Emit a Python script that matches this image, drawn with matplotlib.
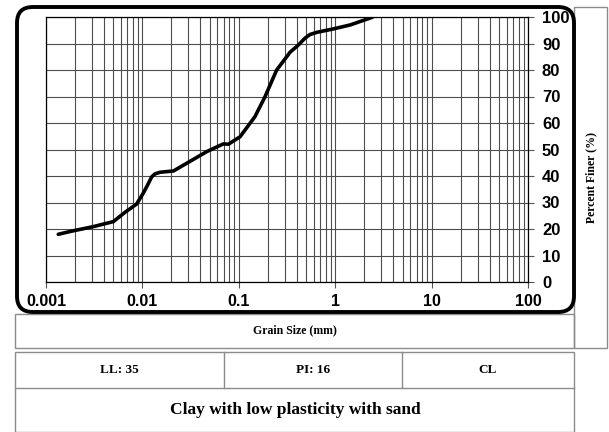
import matplotlib
matplotlib.use("Agg")
import matplotlib.pyplot as plt
from matplotlib.patches import Rectangle, FancyBboxPatch
from matplotlib.ticker import LogLocator, FixedLocator, NullFormatter

# grain size distribution (hydrometer + sieve)
grain_mm = [0.00134, 0.00185, 0.0031, 0.0050, 0.0066, 0.0087, 0.0102, 0.0111,
            0.0125, 0.0135, 0.0152, 0.021, 0.0288, 0.0465, 0.069, 0.078, 0.103,
            0.147, 0.187, 0.247, 0.314, 0.34, 0.414, 0.486, 0.548, 0.643, 0.955,
            1.43, 2.3, 2.45]
percent_finer = [18.0, 19.2, 20.9, 22.8, 26.3, 29.4, 33.5, 36.0,
                 39.7, 40.8, 41.4, 41.9, 44.8, 49.2, 52.1, 52.0, 54.8,
                 62.4, 69.9, 80.0, 85.0, 86.7, 89.4, 92.0, 93.4, 94.2, 95.5,
                 97.0, 99.6, 100.0]

x_ticks = [0.001, 0.01, 0.1, 1, 10, 100]
x_labels = ["0.001", "0.01", "0.1", "1", "10", "100"]
y_ticks = list(range(0, 101, 10))

liquid_limit = 35
plasticity_index = 16
uscs_symbol = "CL"
description = "Clay with low plasticity with sand"

W, H = 609, 432
fig = plt.figure(figsize=(W / 100, H / 100), dpi=100)


def fx(px):
    return px / W


def fy(py):
    return 1 - py / H


def box(x0, y0, x1, y1, lw=1.0, ec="#8c8c8c"):
    fig.add_artist(Rectangle((fx(x0), fy(y1)), fx(x1) - fx(x0), fy(y0) - fy(y1),
                             transform=fig.transFigure, fill=False, ec=ec, lw=lw))


# rounded frame around the graph
frame = FancyBboxPatch((fx(17), fy(312)), fx(574) - fx(17), fy(7) - fy(312),
                       boxstyle="round,pad=0,rounding_size=0.026",
                       transform=fig.transFigure, fill=False, ec="black", lw=2.8,
                       mutation_aspect=W / H, zorder=5)
fig.add_artist(frame)

ax = fig.add_axes([fx(46), fy(282), fx(528) - fx(46), fy(17) - fy(282)])
ax.plot(grain_mm, percent_finer, color="black", lw=2.6,
        solid_joinstyle="round", solid_capstyle="round", zorder=3)

ax.set_xscale("log")
ax.set_xlim(0.001, 100)
ax.set_ylim(0, 100)
ax.xaxis.set_major_locator(FixedLocator(x_ticks))
ax.set_xticklabels(x_labels)
ax.xaxis.set_minor_locator(LogLocator(base=10, subs=range(2, 10)))
ax.xaxis.set_minor_formatter(NullFormatter())
ax.set_yticks(y_ticks)
ax.yaxis.tick_right()

ax.grid(True, which="both", axis="x", color="#4d4d4d", lw=0.8)
ax.grid(True, which="major", axis="y", color="#4d4d4d", lw=0.8)
ax.tick_params(axis="x", which="minor", length=0)
ax.tick_params(axis="x", which="major", length=4, width=0.8, color="#555555",
               labelsize=11.5, pad=5)
ax.tick_params(axis="y", which="major", length=4, width=0.8, color="#555555",
               labelsize=12, pad=6)
for lab in ax.get_xticklabels() + ax.get_yticklabels():
    lab.set_fontweight("bold")
    lab.set_fontfamily("Liberation Sans")
for sp in ax.spines.values():
    sp.set_linewidth(0.9)

# label boxes and soil summary table
serif = "Liberation Serif"
box(15, 314, 574, 348)
fig.text(fx(295), fy(330), "Grain Size (mm)", ha="center", va="center",
         fontsize=8.5, fontweight="bold", family=serif)
box(574, 7, 607, 348)
fig.text(fx(591), fy(178), "Percent Finer (%)", ha="center", va="center",
         rotation=90, fontsize=8.5, fontweight="bold", family=serif)

box(15, 352, 574, 432)
fig.add_artist(plt.Line2D([fx(15), fx(574)], [fy(388), fy(388)],
                          transform=fig.transFigure, color="#8c8c8c", lw=1.0))
for xd in (224, 402):
    fig.add_artist(plt.Line2D([fx(xd), fx(xd)], [fy(352), fy(388)],
                              transform=fig.transFigure, color="#8c8c8c", lw=1.0))
fig.text(fx(119), fy(370), f"LL: {liquid_limit}", ha="center", va="center",
         fontsize=9.5, fontweight="bold", family=serif)
fig.text(fx(313), fy(370), f"PI: {plasticity_index}", ha="center", va="center",
         fontsize=9.5, fontweight="bold", family=serif)
fig.text(fx(488), fy(370), uscs_symbol, ha="center", va="center",
         fontsize=9.5, fontweight="bold", family=serif)
fig.text(fx(295), fy(410), description, ha="center", va="center",
         fontsize=12.5, fontweight="bold", family=serif)

fig.savefig("out.png", dpi=100)
